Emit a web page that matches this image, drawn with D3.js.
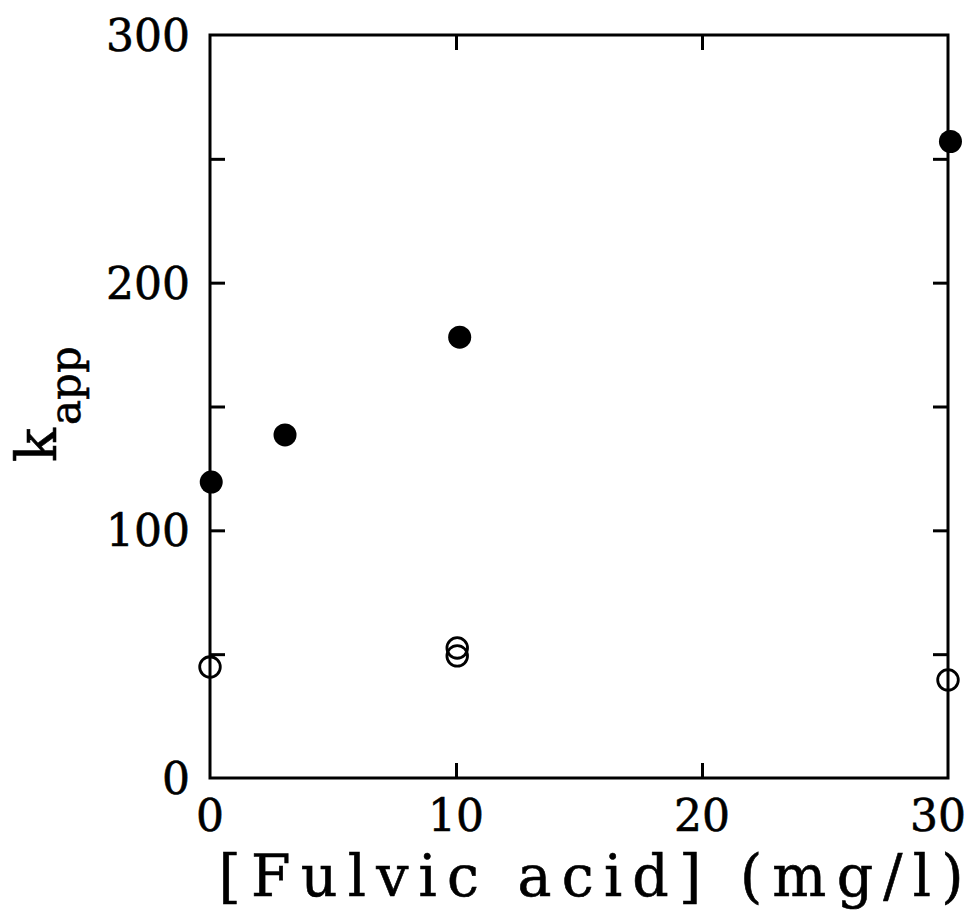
<!DOCTYPE html>
<html>
<head>
<meta charset="utf-8">
<script src="https://cdn.jsdelivr.net/npm/d3@7"></script>
<style>
  html, body { margin: 0; padding: 0; background: #fff; }
  text { font-family: "DejaVu Serif", "Liberation Serif", serif; fill: #000; stroke: #000; stroke-width: 0.6; }
</style>
</head>
<body>
<svg id="chart" width="972" height="920"></svg>
<script>
// Fulvic acid concentration (mg/l) and apparent rate constant k_app
const filledX = [0.05, 3.05, 10.15, 30.1];
const filledY = [119.5, 138.5, 178, 257];
const openX = [0, 10.05, 10.05, 30];
const openY = [44.8, 52.5, 49.3, 39.6];

const xTickValues = [0, 10, 20, 30];
const yTickValues = [0, 50, 100, 150, 200, 250, 300];
const yLabelValues = [0, 100, 200, 300];

const W = 972, H = 920;
const margin = { left: 210, right: 24, top: 35, bottom: 142 };

const svg = d3.select("#chart");

const x = d3.scaleLinear().domain([0, 30]).range([margin.left, W - margin.right]);
const y = d3.scaleLinear().domain([0, 300]).range([H - margin.bottom, margin.top]);

const tickLen = 15;
const strokeW = 3;

// Axes with inward ticks on all four sides; labels drawn separately
const axisBottom = d3.axisBottom(x).tickValues(xTickValues.slice(1, 3)).tickSize(-tickLen).tickFormat("");
const axisTop = d3.axisTop(x).tickValues(xTickValues.slice(1, 3)).tickSize(-tickLen).tickFormat("");
const axisLeft = d3.axisLeft(y).tickValues(yTickValues.slice(1, -1)).tickSize(-tickLen).tickFormat("");
const axisRight = d3.axisRight(y).tickValues(yTickValues.slice(1, -1)).tickSize(-tickLen).tickFormat("");

function styleAxis(g) {
  g.selectAll(".domain").remove();
  g.selectAll(".tick line").attr("stroke", "#000").attr("stroke-width", strokeW);
}

svg.append("g").attr("transform", `translate(0,${y(0)})`).call(axisBottom).call(styleAxis);
svg.append("g").attr("transform", `translate(0,${y(300)})`).call(axisTop).call(styleAxis);
svg.append("g").attr("transform", `translate(${x(0)},0)`).call(axisLeft).call(styleAxis);
svg.append("g").attr("transform", `translate(${x(30)},0)`).call(axisRight).call(styleAxis);

// Plot frame
svg.append("rect")
  .attr("x", x(0)).attr("y", y(300))
  .attr("width", x(30) - x(0)).attr("height", y(0) - y(300))
  .attr("fill", "none").attr("stroke", "#000").attr("stroke-width", strokeW);

// Tick labels (last x label kept inside the page edge)
svg.append("g").selectAll("text").data(xTickValues).join("text")
  .attr("x", d => Math.min(x(d), W - 34)).attr("y", y(0) + 53)
  .attr("text-anchor", "middle")
  .attr("font-size", 44)
  .text(d => d);

svg.append("g").selectAll("text").data(yLabelValues).join("text")
  .attr("x", x(0) - 20).attr("y", d => y(d) + 16)
  .attr("text-anchor", "end")
  .attr("font-size", 44)
  .text(d => d);

// Axis titles
svg.append("text")
  .attr("x", 591).attr("y", 896)
  .attr("text-anchor", "middle")
  .attr("font-size", 57)
  .attr("textLength", 745)
  .attr("lengthAdjust", "spacing")
  .text("[Fulvic acid] (mg/l)");

const yTitle = svg.append("text")
  .attr("transform", "translate(56,404) rotate(-90)")
  .attr("text-anchor", "middle")
  .attr("font-size", 56);
yTitle.append("tspan").text("k");
yTitle.append("tspan").attr("font-size", 42).attr("dy", 24).attr("dx", 3).text("app");

// Data points
svg.append("g").selectAll("circle").data(d3.zip(openX, openY)).join("circle")
  .attr("cx", d => x(d[0])).attr("cy", d => y(d[1])).attr("r", 10.3)
  .attr("fill", "none").attr("stroke", "#000").attr("stroke-width", 2.8);

svg.append("g").selectAll("circle").data(d3.zip(filledX, filledY)).join("circle")
  .attr("cx", d => x(d[0])).attr("cy", d => y(d[1])).attr("r", 11.5)
  .attr("fill", "#000");
</script>
</body>
</html>
